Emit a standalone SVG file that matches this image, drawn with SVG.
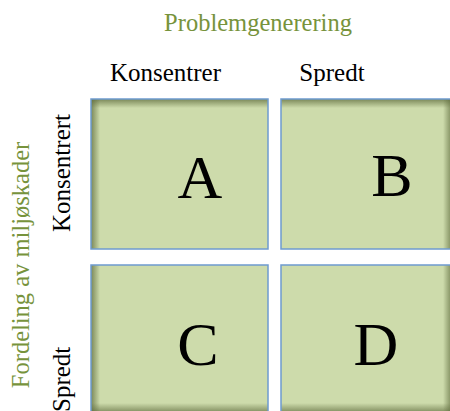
<svg xmlns="http://www.w3.org/2000/svg" width="450" height="411" viewBox="0 0 450 411">
<style>
.box{fill:#CDDBAB;}
.border{fill:none;stroke:#6E9BCF;stroke-width:1.5;}
.big{font-family:"Liberation Serif",serif;font-size:62px;fill:#000;text-anchor:middle;}
.lbl{font-family:"Liberation Serif",serif;font-size:25px;fill:#000;}
.green{font-family:"Liberation Serif",serif;font-size:24.5px;fill:#77933C;}
</style>
<defs>
<linearGradient id="shT" x1="0" y1="0" x2="0" y2="1"><stop offset="0" stop-color="#5E6B3C" stop-opacity="0.75"/><stop offset="1" stop-color="#5E6B3C" stop-opacity="0"/></linearGradient>
<linearGradient id="shB" x1="0" y1="1" x2="0" y2="0"><stop offset="0" stop-color="#5E6B3C" stop-opacity="0.75"/><stop offset="1" stop-color="#5E6B3C" stop-opacity="0"/></linearGradient>
<linearGradient id="shL" x1="0" y1="0" x2="1" y2="0"><stop offset="0" stop-color="#5E6B3C" stop-opacity="0.75"/><stop offset="1" stop-color="#5E6B3C" stop-opacity="0"/></linearGradient>
<linearGradient id="shR" x1="1" y1="0" x2="0" y2="0"><stop offset="0" stop-color="#5E6B3C" stop-opacity="0.75"/><stop offset="1" stop-color="#5E6B3C" stop-opacity="0"/></linearGradient>
</defs>
<g id="title"><text class="green" x="258" y="31" text-anchor="middle">Problemgenerering</text></g>
<g id="col-labels">
<text class="lbl" x="165.5" y="81" text-anchor="middle">Konsentrer</text>
<text class="lbl" x="332" y="81" text-anchor="middle">Spredt</text>
</g>
<g id="row-title"><text class="green" transform="translate(29,265) rotate(-90)" text-anchor="middle">Fordeling av miljøskader</text></g>
<g id="row-labels">
<text class="lbl" transform="translate(70,173) rotate(-90)" text-anchor="middle">Konsentrert</text>
<text class="lbl" transform="translate(70,412) rotate(-90)" text-anchor="start">Spredt</text>
</g>
<g id="A">
<rect class="box" x="91" y="99" width="177" height="150"/>
<rect x="91" y="99" width="177" height="9" fill="url(#shT)"/>
<rect x="91" y="99" width="9" height="150" fill="url(#shL)"/>
<rect class="border" x="91" y="99" width="177" height="150"/>
<text class="big" x="200" y="198">A</text>
</g>
<g id="B">
<rect class="box" x="281" y="99" width="171" height="150"/>
<rect x="281" y="99" width="171" height="9" fill="url(#shT)"/>
<rect x="443" y="99" width="9" height="150" fill="url(#shR)"/>
<rect class="border" x="281" y="99" width="171" height="150"/>
<text class="big" x="392" y="196">B</text>
</g>
<g id="C">
<rect class="box" x="91" y="265" width="177" height="148"/>
<rect x="91" y="265" width="9" height="148" fill="url(#shL)"/>
<rect x="91" y="403" width="177" height="10" fill="url(#shB)"/>
<rect class="border" x="91" y="265" width="177" height="148"/>
<text class="big" x="198" y="365">C</text>
</g>
<g id="D">
<rect class="box" x="281" y="265" width="171" height="148"/>
<rect x="281" y="403" width="171" height="10" fill="url(#shB)"/>
<rect x="443" y="265" width="9" height="148" fill="url(#shR)"/>
<rect class="border" x="281" y="265" width="171" height="148"/>
<text class="big" x="376" y="365">D</text>
</g>
<g id="connectors"></g>
</svg>
